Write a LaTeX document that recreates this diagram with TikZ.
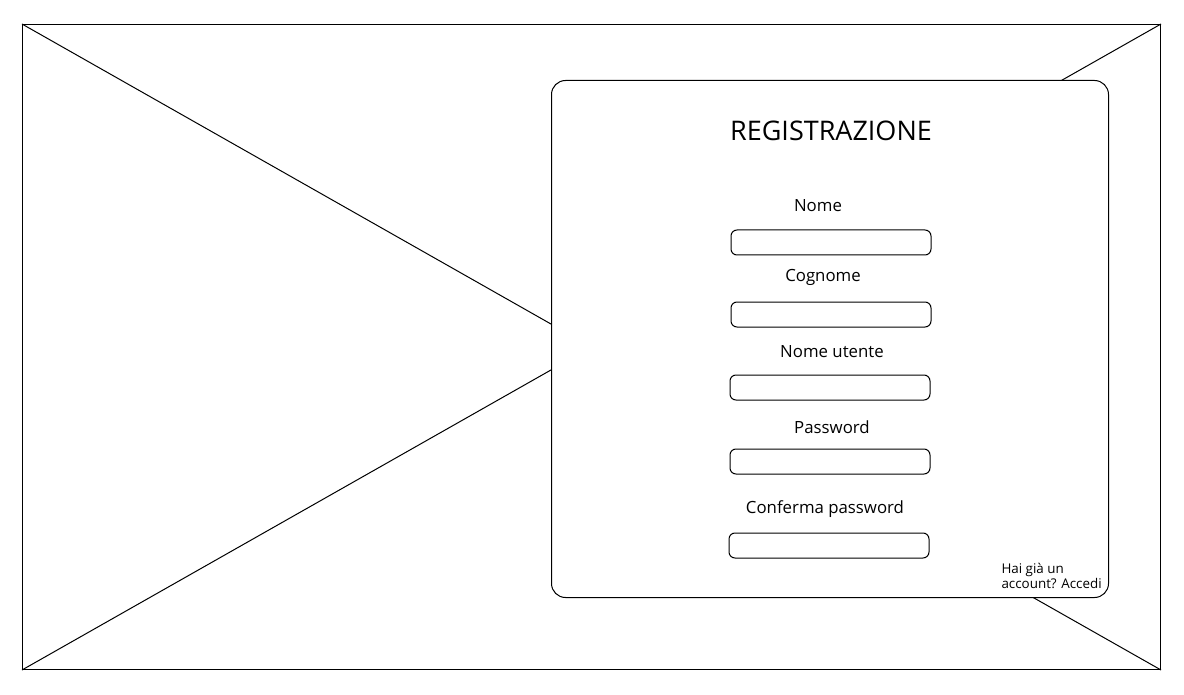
\documentclass[tikz,border=0pt]{standalone}
\usepackage{fontspec}
\setmainfont{Open Sans}
\begin{document}
\begin{tikzpicture}[x=1pt,y=-1pt,line width=1pt,
    field/.style={draw=black,rounded corners=6pt,minimum width=200pt,minimum height=25pt,inner sep=0pt},
    lbl/.style={font=\fontsize{16.8}{19}\selectfont,inner sep=0pt}]
                \useasboundingbox (0,0) rectangle (1184,695);

                % outer placeholder
                \node[draw=black,minimum width=1138pt,minimum height=645pt,inner sep=0pt,anchor=north west] (frame) at (22,24) {};
                \draw (frame.north west) -- (frame.south east);
                \draw (frame.south west) -- (frame.north east);

                % card
                \node[draw=black,fill=white,rounded corners=14pt,minimum width=557pt,minimum height=517pt,inner sep=0pt,anchor=north west] (card) at (551,80) {};
                \node[font=\fontsize{27}{30}\selectfont] (title) at (831,131) {REGISTRAZIONE};

                \node[lbl] (l1) at (818,206) {Nome};
                \node[field] (f1) at (831,242.5) {};
                \node[lbl] (l2) at (823,277) {Cognome};
                \node[field] (f2) at (831,314.5) {};
                \node[lbl] (l3) at (832,352) {Nome utente};
                \node[field] (f3) at (830,387.5) {};
                \node[lbl] (l4) at (832,427) {Password};
                \node[field] (f4) at (830,461.5) {};
                \node[lbl] (l5) at (825,509) {Conferma password};
                \node[field] (f5) at (829,545.5) {};

                \node[font=\fontsize{13.4}{15}\selectfont,align=left,anchor=north west,inner sep=0pt] (login) at (1001,563) {Hai già un\\account? Accedi};
            \end{tikzpicture}
\end{document}
